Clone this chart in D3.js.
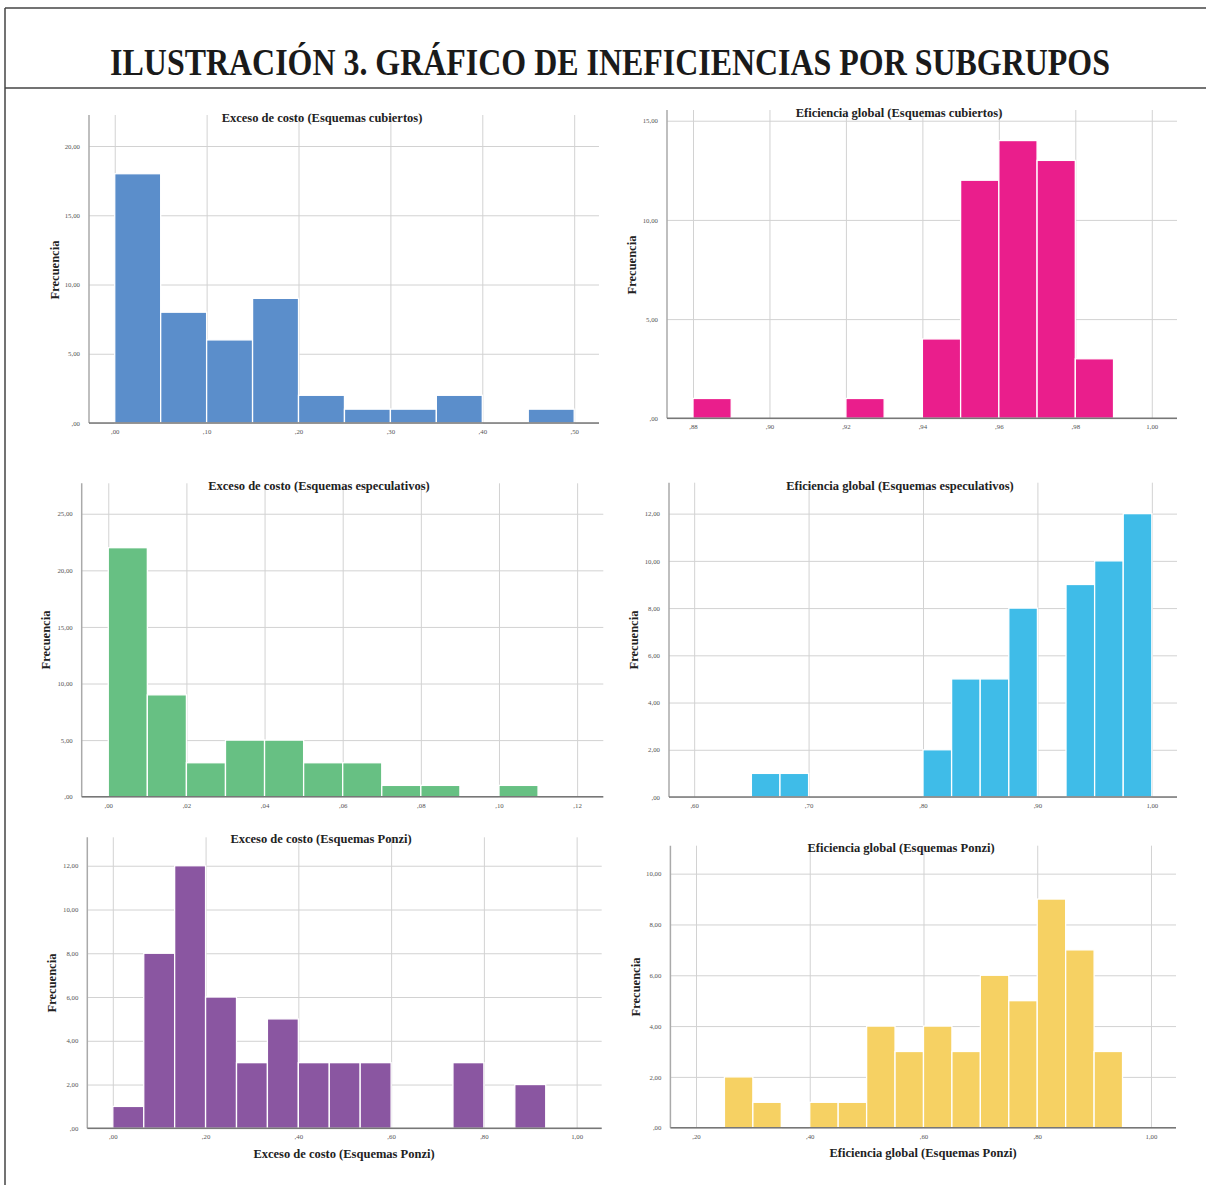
<!DOCTYPE html>
<meta charset="utf-8">
<script src="https://d3js.org/d3.v7.min.js"></script>
<body style="margin:0;background:#fff">
<svg width="1206" height="1185"></svg>
<style>
text { font-family: 'Liberation Serif', 'DejaVu Serif', serif; }
.tick text { font-size: 6.8px; fill: #555; }
.tick line { stroke: #d2d2d2; stroke-width: 1; }
</style>
<script>
    // ---------- data ----------
    const MAIN_TITLE = 'ILUSTRACIÓN 3. GRÁFICO DE INEFICIENCIAS POR SUBGRUPOS';
    const Y_LABEL = 'Frecuencia';

    // Exceso de costo (Esquemas cubiertos)
    const ecCubBins   = [0, .05, .10, .15, .20, .25, .30, .35, .40, .45];
    const ecCubCounts = [18, 8, 6, 9, 2, 1, 1, 2, 0, 1];
    const ecCubXTicks = [0, .1, .2, .3, .4, .5];
    const ecCubYTicks = [0, 5, 10, 15, 20];

    // Eficiencia global (Esquemas cubiertos)
    const egCubBins   = [.88, .89, .90, .91, .92, .93, .94, .95, .96, .97, .98];
    const egCubCounts = [1, 0, 0, 0, 1, 0, 4, 12, 14, 13, 3];
    const egCubXTicks = [.88, .90, .92, .94, .96, .98, 1.00];
    const egCubYTicks = [0, 5, 10, 15];

    // Exceso de costo (Esquemas especulativos)
    const ecEspBins   = [0, .01, .02, .03, .04, .05, .06, .07, .08, .09, .10];
    const ecEspCounts = [22, 9, 3, 5, 5, 3, 3, 1, 1, 0, 1];
    const ecEspXTicks = [0, .02, .04, .06, .08, .10, .12];
    const ecEspYTicks = [0, 5, 10, 15, 20, 25];

    // Eficiencia global (Esquemas especulativos)
    const egEspBins   = [.65, .675, .80, .825, .85, .875, .90, .925, .95, .975];
    const egEspCounts = [1, 1, 2, 5, 5, 8, 0, 9, 10, 12];
    const egEspXTicks = [.6, .7, .8, .9, 1.0];
    const egEspYTicks = [0, 2, 4, 6, 8, 10, 12];

    // Exceso de costo (Esquemas Ponzi)
    const ecPonBins   = [0, .0667, .1333, .2, .2667, .3333, .4, .4667, .5333, .6, .6667, .7333, .8, .8667];
    const ecPonCounts = [1, 8, 12, 6, 3, 5, 3, 3, 3, 0, 0, 3, 0, 2];
    const ecPonXTicks = [0, .2, .4, .6, .8, 1.0];
    const ecPonYTicks = [0, 2, 4, 6, 8, 10, 12];

    // Eficiencia global (Esquemas Ponzi)
    const egPonBins   = [.25, .30, .35, .40, .45, .50, .55, .60, .65, .70, .75, .80, .85, .90];
    const egPonCounts = [2, 1, 0, 1, 1, 4, 3, 4, 3, 6, 5, 9, 7, 3];
    const egPonXTicks = [.2, .4, .6, .8, 1.0];
    const egPonYTicks = [0, 2, 4, 6, 8, 10];

    // ---------- layout ----------
    var panels = [
        {title: 'Exceso de costo (Esquemas cubiertos)', bins: ecCubBins, counts: ecCubCounts, width: .05,
         xt: ecCubXTicks, yt: ecCubYTicks, color: '#5b8ecb',
         l: 89, r: 599, t: 115, b: 423, xd: [-.028, .527], ymax: 22.24,
         tx: 322, ty: 121.5, fx: 55, fy: 270},
        {title: 'Eficiencia global (Esquemas cubiertos)', bins: egCubBins, counts: egCubCounts, width: .01,
         xt: egCubXTicks, yt: egCubYTicks, color: '#ea1e8c',
         l: 667, r: 1177, t: 110, b: 418.3, xd: [.8732, 1.0066], ymax: 15.54,
         tx: 899, ty: 116.5, fx: 632, fy: 265},
        {title: 'Exceso de costo (Esquemas especulativos)', bins: ecEspBins, counts: ecEspCounts, width: .01,
         xt: ecEspXTicks, yt: ecEspYTicks, color: '#67c083',
         l: 81.7, r: 603.3, t: 483.3, b: 796.7, xd: [-.0068, .1267], ymax: 27.69,
         tx: 319, ty: 489.5, fx: 46, fy: 640},
        {title: 'Eficiencia global (Esquemas especulativos)', bins: egEspBins, counts: egEspCounts, width: .025,
         xt: egEspXTicks, yt: egEspYTicks, color: '#3fbce8',
         l: 669, r: 1177, t: 482.7, b: 797, xd: [.578, 1.022], ymax: 13.31,
         tx: 900, ty: 489.5, fx: 634, fy: 640},
        {title: 'Exceso de costo (Esquemas Ponzi)', bins: ecPonBins, counts: ecPonCounts, width: 1/15,
         xt: ecPonXTicks, yt: ecPonYTicks, color: '#8a56a1',
         l: 87.3, r: 601.7, t: 837.3, b: 1128.3, xd: [-.055, 1.054], ymax: 13.3,
         tx: 321, ty: 842.5, fx: 52, fy: 983, xlabel: 'Exceso de costo (Esquemas Ponzi)', lx: 344, ly: 1158},
        {title: 'Eficiencia global (Esquemas Ponzi)', bins: egPonBins, counts: egPonCounts, width: .05,
         xt: egPonXTicks, yt: egPonYTicks, color: '#f6d163',
         l: 670.4, r: 1176, t: 845.7, b: 1127.7, xd: [.155, 1.044], ymax: 11.1,
         tx: 901, ty: 851.5, fx: 636, fy: 987, xlabel: 'Eficiencia global (Esquemas Ponzi)', lx: 923, ly: 1157}
    ];

    // ,00  5,00  1,00 ...
    var fmt = v => d3.format('.2f')(v).replace(/^0/, '').replace('.', ',');

    var svg = d3.select('svg');

    // frame + main title
    var frame = svg.append('g').attr('stroke', '#444').attr('stroke-width', 1.5);
    frame.append('line').attr('x1', 5).attr('y1', 8).attr('x2', 1206).attr('y2', 8);
    frame.append('line').attr('x1', 5).attr('y1', 88).attr('x2', 1206).attr('y2', 88);
    frame.append('line').attr('x1', 5).attr('y1', 8).attr('x2', 5).attr('y2', 1185);

    // condensed title: squeeze horizontally to ~1000px
    var title = svg.append('text')
        .attr('text-anchor', 'middle')
        .attr('font-size', 38).attr('font-weight', 'bold').attr('fill', '#1a1a1a')
        .text(MAIN_TITLE);
    var tw = title.node().getComputedTextLength();
    title.attr('transform', `translate(610,75) scale(${1000 / tw},1)`);

    panels.forEach(function(p){
        var x = d3.scaleLinear().domain(p.xd).range([p.l, p.r]);
        var y = d3.scaleLinear().domain([0, p.ymax]).range([p.b, p.t]);
        var g = svg.append('g');

        // grid via axes
        var ya = g.append('g').attr('transform', `translate(${p.l},0)`)
            .call(d3.axisLeft(y).tickValues(p.yt).tickSize(-(p.r - p.l)).tickPadding(9).tickFormat(fmt));
        ya.select('.domain').remove();

        var xa = g.append('g').attr('transform', `translate(0,${p.b})`)
            .call(d3.axisBottom(x).tickValues(p.xt).tickSize(-(p.b - p.t)).tickPadding(6).tickFormat(fmt));
        xa.select('.domain').remove();

        // bars
        var data = p.bins.map((s, i) => ({x0: s, x1: s + p.width, n: p.counts[i]})).filter(d => d.n > 0);
        g.selectAll('rect.bar').data(data).enter().append('rect')
            .attr('class', 'bar')
            .attr('x', d => x(d.x0))
            .attr('width', d => x(d.x1) - x(d.x0))
            .attr('y', d => y(d.n))
            .attr('height', d => y(0) - y(d.n))
            .attr('fill', p.color)
            .attr('stroke', '#fff')
            .attr('stroke-width', 1.3);

        // axis lines
        g.append('line').attr('x1', p.l).attr('x2', p.l).attr('y1', p.t).attr('y2', p.b)
            .attr('stroke', '#aaa').attr('stroke-width', 1.5);
        g.append('line').attr('x1', p.l).attr('x2', p.r).attr('y1', p.b).attr('y2', p.b)
            .attr('stroke', '#777').attr('stroke-width', 1.5);

        // texts
        g.append('text').attr('x', p.tx).attr('y', p.ty).attr('text-anchor', 'middle')
            .attr('font-size', 12.5).attr('font-weight', 'bold').attr('fill', '#222')
            .text(p.title);
        g.append('text').attr('transform', `translate(${p.fx + 4},${p.fy}) rotate(-90)`)
            .attr('text-anchor', 'middle')
            .attr('font-size', 12.5).attr('font-weight', 'bold').attr('fill', '#222')
            .text(Y_LABEL);
        if (p.xlabel) {
            g.append('text').attr('x', p.lx).attr('y', p.ly).attr('text-anchor', 'middle')
                .attr('font-size', 12.5).attr('font-weight', 'bold').attr('fill', '#222')
                .text(p.xlabel);
        }
    });
</script>
</body>
